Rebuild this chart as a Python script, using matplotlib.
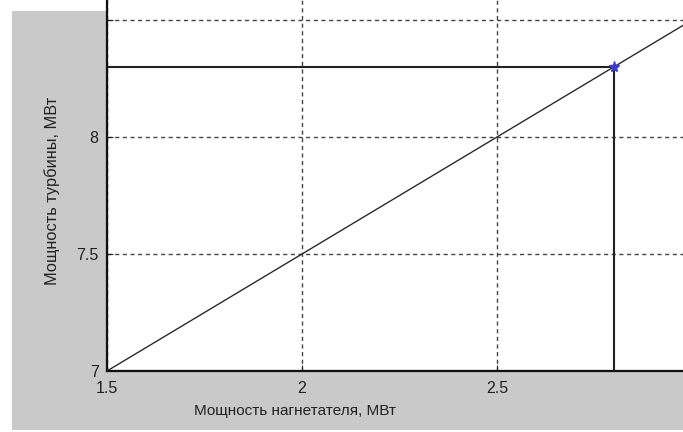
import matplotlib.pyplot as plt
from matplotlib.patches import Rectangle

# данные
line_x = [1.5, 3.0]
line_y = [7.0, 8.5]
box_x = [1.5, 2.8, 2.8, 1.5, 1.5]
box_y = [7.0, 7.0, 8.3, 8.3, 7.0]
point_x = [2.8]
point_y = [8.3]
xticks = [1.5, 2, 2.5]
xtick_labels = ["1.5", "2", "2.5"]
yticks = [7, 7.5, 8, 8.5]
ytick_labels = ["7", "7.5", "8", ""]

plt.rcParams['font.family'] = ['Liberation Sans', 'DejaVu Sans']

W, H = 683, 432
fig = plt.figure(figsize=(W / 100, H / 100), dpi=100, facecolor='white')

# серый фон окна
fig.patches.append(Rectangle((12 / W, 2 / H), 1 - 12 / W, (430 - 11) / H,
                             transform=fig.transFigure, facecolor='#c9c9c9',
                             edgecolor='none', zorder=-5))

ax = fig.add_axes([107 / W, 61 / H, 576 / W, 371 / H])
ax.set_zorder(1)
ax.set_facecolor('white')
ax.set_xlim(1.5, 1.5 + 576 / 390)
ax.set_ylim(7, 7 + 371 / 234)

for s in ['top', 'right']:
    ax.spines[s].set_visible(False)
for s in ['left', 'bottom']:
    ax.spines[s].set_linewidth(1.6)
    ax.spines[s].set_color('#111111')

ax.set_xticks(xticks)
ax.set_xticklabels(xtick_labels)
ax.set_yticks(yticks)
ax.set_yticklabels(ytick_labels)
ax.tick_params(direction='in', length=4, colors='#222222', labelsize=11.5)
ax.tick_params(axis='x', pad=7)
ax.tick_params(axis='y', pad=6)

ax.grid(True, color='#444444', linestyle=(0, (3, 2.5)), linewidth=1.0)
ax.set_axisbelow(True)

ax.plot(line_x, line_y, color='#2a2a2a', linewidth=1.0)
ax.plot(box_x, box_y, color='#222222', linewidth=1.5)
ax.plot(point_x, point_y, marker='*', color='#3a3ad0', markersize=8, linestyle='none')

ax.set_xlabel("Мощность нагнетателя, МВт", fontsize=11, color='#222222')
ax.xaxis.set_label_coords((295 - 107) / 576, -33 / 371)
ax.set_ylabel("Мощность турбины, МВт", fontsize=11.8, color='#222222')
ax.yaxis.set_label_coords((60 - 107) / 576, (371 - 191) / 371)

fig.savefig("out.png", dpi=100)
